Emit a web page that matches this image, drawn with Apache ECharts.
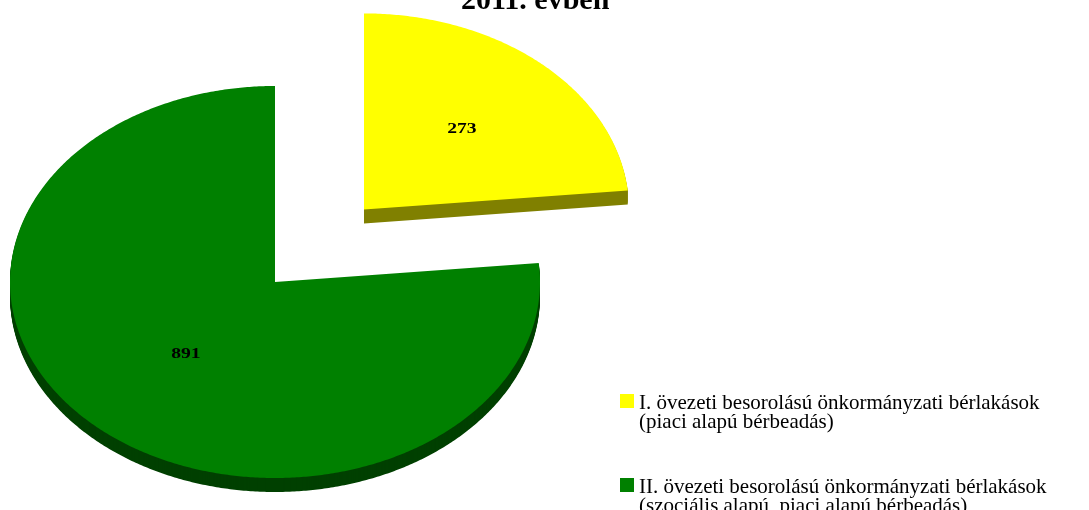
<!DOCTYPE html>
<html><head><meta charset="utf-8">
<script src="https://cdn.jsdelivr.net/npm/echarts@6/dist/echarts.min.js"></script>
<style>html,body{margin:0;padding:0;background:#fff}#c{width:1089px;height:510px}</style>
</head><body><div id="c"></div>
<script>
const titleText = '2011. évben';
const categories = [
  'I. övezeti besorolású önkormányzati bérlakások\n(piaci alapú bérbeadás)',
  'II. övezeti besorolású önkormányzati bérlakások\n(szociális alapú, piaci alapú bérbeadás)'
];
const values = [273, 891];

const total = values.reduce((a, b) => a + b, 0);
const CX = 275, CY = 282, RX = 265, RY = 196, DEPTH = 14;

const sliceStyles = [
  { top: '#FFFF00', side: '#808000', explode: 0.5, labelR: 0.55 },
  { top: '#008000', side: '#004000', explode: 0, labelR: 0.5 }
];

function sectorPoints(cx, cy, a0, a1) {
  const pts = [[cx, cy]];
  const n = Math.max(8, Math.ceil((a1 - a0) / (Math.PI / 360)));
  for (let i = 0; i <= n; i++) {
    const t = a0 + (a1 - a0) * i / n;
    pts.push([cx + RX * Math.sin(t), cy - RY * Math.cos(t)]);
  }
  return pts;
}

function makeSeries(idx) {
  const st = sliceStyles[idx];
  return {
    type: 'custom',
    name: categories[idx],
    coordinateSystem: 'none',
    itemStyle: { color: st.top },
    data: [values[idx]],
    renderItem: function (params, api) {
      let before = 0;
      for (let k = 0; k < idx; k++) before += values[k];
      const v = api.value(0);
      const a0 = before / total * 2 * Math.PI;
      const a1 = (before + v) / total * 2 * Math.PI;
      const mid = (a0 + a1) / 2;
      const cx = CX + st.explode * RX * Math.sin(mid);
      const cy = CY - st.explode * RY * Math.cos(mid);
      const children = [];
      for (let d = DEPTH; d >= 1; d--) {
        children.push({ type: 'polygon', shape: { points: sectorPoints(cx, cy + d, a0, a1) }, style: { fill: st.side } });
      }
      children.push({ type: 'polygon', shape: { points: sectorPoints(cx, cy, a0, a1) }, style: { fill: st.top } });
      children.push({
        type: 'text',
        x: cx + st.labelR * RX * Math.sin(mid),
        y: cy - st.labelR * RY * Math.cos(mid),
        scaleX: 1.4,
        style: { text: String(v), fill: '#000', font: 'bold 14px "Liberation Serif"', align: 'center', verticalAlign: 'middle' }
      });
      return { type: 'group', children: children };
    }
  };
}

const chart = echarts.init(document.getElementById('c'), null, { renderer: 'canvas' });
chart.setOption({
  animation: false,
  backgroundColor: '#ffffff',
  title: {
    text: titleText,
    left: 456,
    top: -19,
    textStyle: { fontFamily: 'Liberation Serif', fontWeight: 'bold', fontSize: 30, color: '#000' }
  },
  legend: {
    orient: 'vertical',
    left: 620,
    top: 393,
    height: 200,
    padding: 0,
    itemWidth: 14,
    itemHeight: 38,
    itemGap: 44,
    icon: 'path://M0,0L14,0L14,14L0,14Z M0,38L14,38',
    textStyle: { fontFamily: 'Liberation Serif', fontSize: 21, lineHeight: 19, color: '#000' },
    data: categories
  },
  series: [makeSeries(0), makeSeries(1)]
});
</script>
</body></html>
